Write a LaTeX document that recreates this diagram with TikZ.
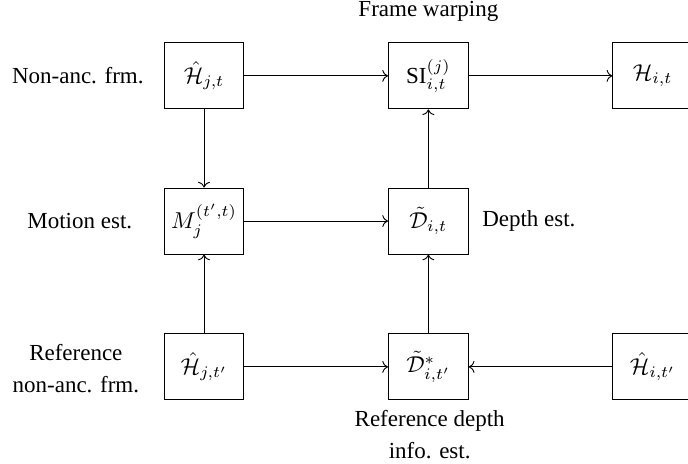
\documentclass[tikz,border=0pt]{standalone}
\usepackage{amsmath,amssymb}
\usepackage{fontspec}
\setmainfont{Liberation Serif}
\usepackage{tikz}
\usetikzlibrary{arrows.meta}

\begin{document}
\begin{tikzpicture}[
  blk/.style={draw, minimum width=1.22cm, minimum height=1.01cm, inner sep=0pt},
  lbl/.style={font=\fontsize{10}{14}\selectfont, align=center},
  flow/.style={->}]
\useasboundingbox (0,0) rectangle (10.52,-7.08);
% ----- blocks -----
\node[blk] (hjt)  at (3.12,-1.16) {$\hat{\mathcal{H}}_{j,t}$};
\node[blk] (si)   at (6.55,-1.16) {$\mathrm{SI}_{i,t}^{(j)}$};
\node[blk] (hit)  at (9.98,-1.16) {$\mathcal{H}_{i,t}$};
\node[blk] (mot)  at (3.12,-3.38) {$M_j^{(t',t)}$};
\node[blk] (dit)  at (6.55,-3.38) {$\tilde{\mathcal{D}}_{i,t}$};
\node[blk] (hjtp) at (3.12,-5.61) {$\hat{\mathcal{H}}_{j,t'}$};
\node[blk] (dref) at (6.55,-5.61) {$\tilde{\mathcal{D}}^{*}_{i,t'}$};
\node[blk] (hitp) at (9.98,-5.61) {$\hat{\mathcal{H}}_{i,t'}$};
% ----- labels -----
\node[lbl] (lwarp)  at (6.55,-0.18) {Frame warping};
\node[lbl] (lnon)   at (1.19,-1.16) {Non-anc. frm.};
\node[lbl] (lmot)   at (1.22,-3.38) {Motion est.};
\node[lbl, anchor=west] (ldep) at (7.25,-3.38) {Depth est.};
\node[lbl] (lrefn)  at (1.16,-5.64) {Reference\\non-anc. frm.};
\node[lbl] (lrefd)  at (6.57,-6.64) {Reference depth\\info. est.};
% ----- connectors -----
\draw[flow] (hjt) -- (si);
\draw[flow] (si) -- (hit);
\draw[flow] (hjt) -- (mot);
\draw[flow] (mot) -- (dit);
\draw[flow] (dit) -- (si);
\draw[flow] (hjtp) -- (mot);
\draw[flow] (hjtp) -- (dref);
\draw[flow] (hitp) -- (dref);
\draw[flow] (dref) -- (dit);
\end{tikzpicture}
\end{document}
